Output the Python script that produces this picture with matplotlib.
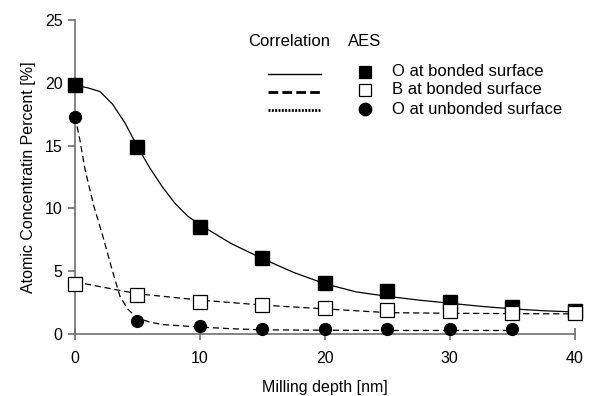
import matplotlib
matplotlib.use("Agg")
import matplotlib.pyplot as plt
from matplotlib.lines import Line2D

plt.rcParams['font.family'] = ['Liberation Sans', 'DejaVu Sans']
plt.rcParams['font.size'] = 11.5

# AES measurements
depth = [0, 5, 10, 15, 20, 25, 30, 35, 40]
o_bonded = [19.8, 14.9, 8.5, 6.05, 4.05, 3.45, 2.55, 2.15, 1.8]
b_bonded = [4.0, 3.1, 2.55, 2.3, 2.1, 1.9, 1.8, 1.7, 1.65]
depth_unb = [0, 5, 10, 15, 20, 25, 30, 35]
o_unbonded = [17.3, 1.0, 0.65, 0.4, 0.4, 0.4, 0.4, 0.4]

# correlation curves
fit_x_o = [0, 1, 2, 3, 4, 5, 6, 7, 8, 9, 10, 12.5, 15, 17.5, 20, 22.5, 25,
           27.5, 30, 32.5, 35, 37.5, 40]
fit_o = [19.8, 19.6, 19.3, 18.3, 16.8, 14.9, 13.2, 11.7, 10.4, 9.4, 8.7, 7.2,
         6.0, 4.9, 4.0, 3.35, 3.0, 2.7, 2.45, 2.2, 2.0, 1.85, 1.75]
fit_x_b = [0, 5, 10, 15, 20, 25, 30, 35, 40]
fit_b = [4.15, 3.2, 2.7, 2.3, 2.0, 1.7, 1.65, 1.62, 1.6]
fit_x_u = [0, 0.4, 0.8, 1.5, 2.25, 3.0, 3.6, 4.2, 5, 6, 7, 8.5, 10, 12.5, 15,
           20, 25, 30, 35]
fit_u = [17.3, 15.4, 13.1, 10.2, 7.7, 5.0, 3.0, 2.0, 1.25, 0.95, 0.75, 0.65,
         0.55, 0.42, 0.33, 0.3, 0.28, 0.28, 0.28]

fig = plt.figure(figsize=(6.05, 3.96), dpi=100)
ax = fig.add_axes([0.124, 0.1566, 0.826, 0.793])

ax.plot(fit_x_o, fit_o, color='black', lw=0.9)
ax.plot(fit_x_b, fit_b, color='black', lw=0.9, dashes=(5, 3))
ax.plot(fit_x_u, fit_u, color='black', lw=0.9, dashes=(5, 3))

ax.plot(depth, o_bonded, 's', color='black', ms=10, mec='black', zorder=3)
ax.plot(depth, b_bonded, 's', color='white', ms=10, mec='black', mew=0.9, zorder=3)
ax.plot(depth_unb, o_unbonded, 'o', color='black', ms=8.5, zorder=3)

ax.set_xlim(0, 40)
ax.set_ylim(0, 25)
ax.set_xticks([0, 10, 20, 30, 40])
ax.set_yticks([0, 5, 10, 15, 20, 25])
ax.set_xlabel('Milling depth [nm]', labelpad=10)
ax.set_ylabel('Atomic Concentratin Percent [%]', labelpad=6)
for side in ['top', 'right']:
    ax.spines[side].set_visible(False)
for side in ['left', 'bottom']:
    ax.spines[side].set_color('#707070')
    ax.spines[side].set_linewidth(1.2)
ax.tick_params(axis='x', direction='inout', length=8, color='#707070', width=1.2, pad=8)
ax.tick_params(axis='y', direction='out', length=5, color='#707070', width=1.2, pad=4)
for line in ax.lines:
    line.set_clip_on(False)

# hand-built legend
W, H = 605.0, 396.0
def fx(px):
    return px / W
def fy(py):
    return 1 - py / H

fig.text(fx(248), fy(41), 'Correlation', va='center', ha='left', fontsize=12)
fig.text(fx(348), fy(41), 'AES', va='center', ha='left', fontsize=12)
styles = [dict(ls='-', lw=1.0), dict(dashes=(3.5, 1.5), lw=2.0),
          dict(dashes=(0.7, 0.5), lw=2.0)]
rows = [74, 92, 110]
for st, r in zip(styles, rows):
    fig.add_artist(Line2D([fx(268), fx(321)], [fy(r), fy(r)], color='black',
                          transform=fig.transFigure, **st))
labels = ['O at bonded surface', 'B at bonded surface', 'O at unbonded surface']
marks = [dict(marker='s', mfc='black', ms=9), dict(marker='s', mfc='white', ms=9),
         dict(marker='o', mfc='black', ms=9)]
for lab, mk, r in zip(labels, marks, [72, 90, 109]):
    fig.add_artist(Line2D([fx(365)], [fy(r)], color='black', mec='black', mew=0.9,
                          ls='none', transform=fig.transFigure, **mk))
    fig.text(fx(392), fy(r), lab, va='center', ha='left', fontsize=12)

fig.savefig('out.png', dpi=100)
